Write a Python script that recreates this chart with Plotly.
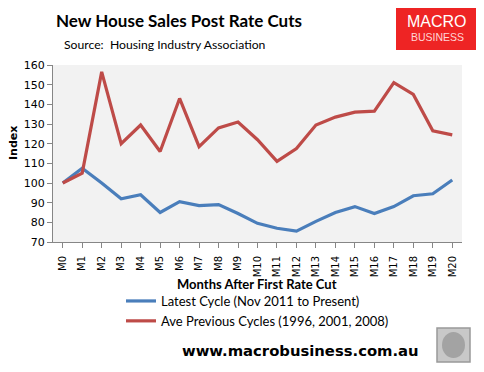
import plotly.graph_objects as go

months = [f"M{i}" for i in range(21)]
latest = [100, 107.5, 100, 92, 94, 85, 90.5, 88.5, 89, 84.5, 79.5, 77, 75.5, 80.5, 85, 88, 84.5, 88, 93.5, 94.5, 101.5]
previous = [100, 105, 156.5, 120, 129.5, 116, 143, 118.5, 128, 131, 122, 111, 117.5, 129.5, 133.5, 136, 136.5, 151, 145, 126.5, 124.5]
series_names = ["Latest Cycle (Nov 2011 to Present)", "Ave Previous Cycles (1996, 2001, 2008)"]
y_ticks = list(range(70, 161, 10))

OFF = 8  # page body margin
W, H = 484 - OFF, 372 - OFF
# plot area in screen pixels
SL, SR, ST, SB = 53, 462, 65, 242
L, R, T, B = SL - OFF, SR - OFF, ST - OFF, SB - OFF

def px(x):
    return (x - SL) / (SR - SL)

def py(y):
    return (SB - y) / (SB - ST)

fig = go.Figure()
fig.add_trace(go.Scatter(x=months, y=latest, mode="lines", name=series_names[0],
                         line=dict(color="#4a7ebb", width=3.2)))
fig.add_trace(go.Scatter(x=months, y=previous, mode="lines", name=series_names[1],
                         line=dict(color="#be4b48", width=3.2)))

fig.update_layout(
    width=W, height=H,
    margin=dict(l=L, r=W - R, t=T, b=H - B),
    paper_bgcolor="white", plot_bgcolor="#f2f2f2",
    font=dict(family="DejaVu Sans", size=11, color="black"),
    showlegend=True,
    legend=dict(x=px(121), y=py(286), xanchor="left", yanchor="top",
                font=dict(family="Lato", size=13, color="black"),
                bgcolor="rgba(0,0,0,0)", tracegroupgap=0, itemwidth=30),
    xaxis=dict(showgrid=False, showline=True, linecolor="#868686", linewidth=1,
               ticks="outside", ticklen=5, tickcolor="#868686", tickangle=-90,
               tickfont=dict(family="DejaVu Sans", size=10), ticklabelstandoff=4,
               range=[-0.5, 20.5], zeroline=False),
    yaxis=dict(showgrid=False, showline=True, linecolor="#868686", linewidth=1,
               ticks="outside", ticklen=5, tickcolor="#868686",
               tickvals=y_ticks, range=[70, 160], zeroline=False,
               tickfont=dict(family="DejaVu Sans", size=11)),
)

ann = []
ann.append(dict(text="<b>New House Sales Post Rate Cuts</b>", x=px(54), y=py(20), xref="paper", yref="paper",
                xanchor="left", yanchor="middle", showarrow=False,
                font=dict(family="Lato", size=17, color="black")))
ann.append(dict(text="Source:  Housing Industry Association", x=px(62), y=py(45), xref="paper", yref="paper",
                xanchor="left", yanchor="middle", showarrow=False,
                font=dict(family="Lato", size=12.2, color="black")))
ann.append(dict(text="<b>Index</b>", x=px(13), y=py(143), xref="paper", yref="paper",
                xanchor="center", yanchor="middle", showarrow=False, textangle=-90,
                font=dict(family="DejaVu Sans", size=11, color="black")))
ann.append(dict(text="<b>Months After First Rate Cut</b>", x=px(257), y=py(284), xref="paper", yref="paper",
                xanchor="center", yanchor="middle", showarrow=False,
                font=dict(family="Lato", size=13, color="black")))
ann.append(dict(text="<b>www.macrobusiness.com.au</b>", x=px(300), y=py(350), xref="paper", yref="paper",
                xanchor="center", yanchor="middle", showarrow=False,
                font=dict(family="DejaVu Sans", size=14.8, color="black")))
ann.append(dict(text="MACRO", x=px(437), y=py(22), xref="paper", yref="paper",
                xanchor="center", yanchor="middle", showarrow=False,
                font=dict(family="Liberation Sans", size=16, color="white")))
ann.append(dict(text="BUSINESS", x=px(437), y=py(37), xref="paper", yref="paper",
                xanchor="center", yanchor="middle", showarrow=False,
                font=dict(family="Liberation Sans", size=10.5, color="#ffd6d6")))
fig.update_layout(annotations=ann)

fig.add_shape(type="rect", xref="paper", yref="paper", x0=px(396), x1=px(478), y0=py(8), y1=py(50),
              fillcolor="#ee2424", line=dict(width=0), layer="below")
fig.add_shape(type="rect", xref="paper", yref="paper", x0=px(437), x1=px(470), y0=py(328), y1=py(362),
              fillcolor="#c8c8c8", line=dict(color="#999999", width=1.5), layer="below")
fig.add_shape(type="circle", xref="paper", yref="paper", x0=px(442), x1=px(465), y0=py(332), y1=py(358),
              fillcolor="#8a8a8a", line=dict(width=0), layer="above", opacity=0.6)

fig.write_html("out.html")
